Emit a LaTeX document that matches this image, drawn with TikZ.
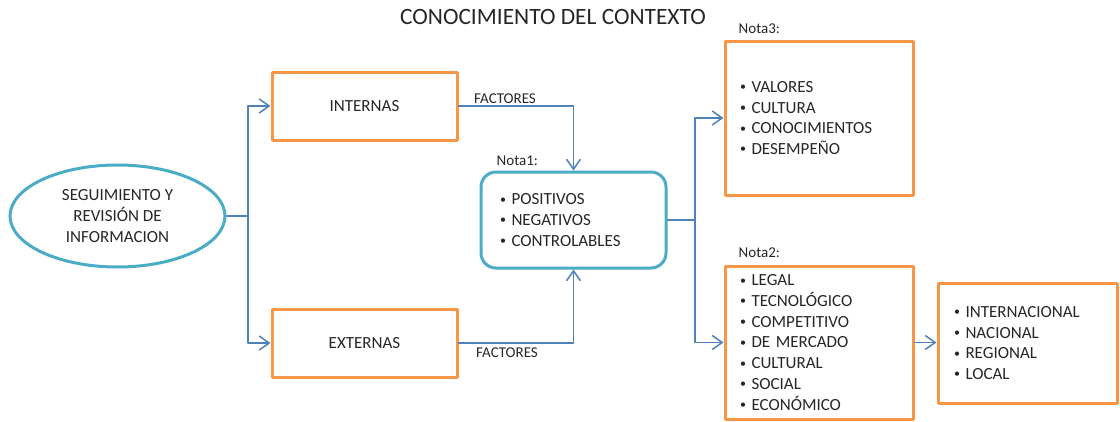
\documentclass[tikz,border=0pt]{standalone}
\usepackage{fontspec}
\setmainfont{Carlito}
\usetikzlibrary{arrows.meta,positioning,shapes.geometric}
\definecolor{naranja}{HTML}{F79646}
\definecolor{turquesa}{HTML}{4BACC6}
\definecolor{azul}{HTML}{4F81BD}
\definecolor{texto}{HTML}{262626}
\newcommand{\punto}{\makebox[11.5pt][l]{\raisebox{1.6pt}{\fontsize{12}{12}\selectfont\textbullet}}}
\tikzset{
  every picture/.style={
    line join=round,
    line cap=round,
  },
  caja/.style={draw=naranja, line width=3pt, text=texto, inner ysep=0pt,
    font=\fontsize{17}{20.7}\selectfont, align=left},
  nota/.style={caja, draw=turquesa, rounded corners=15pt},
  flecha/.style={draw=azul, line width=1.5pt,
    -{Straight Barb[length=10pt,width=14pt]}},
  etiqueta/.style={inner sep=0pt, text=texto, font=\fontsize{15}{18}\selectfont},
}

\begin{document}
\begin{tikzpicture}[x=1pt, y=-1pt]
    \useasboundingbox (0,0) rectangle (1120,421);

    % Title
    \node[anchor=base, text=texto, font=\fontsize{23.4}{27}\selectfont] (titulo)
        at (553,24) {CONOCIMIENTO DEL CONTEXTO};

    % Source
    \node[caja, draw=turquesa, ellipse, minimum width=215pt, minimum height=102pt,
        inner sep=0pt, align=center] (seguimiento) at (117.5,216)
        {SEGUIMIENTO Y\\REVISIÓN DE\\INFORMACION};

    % Internal and external
    \node[caja, minimum width=185pt, minimum height=68pt, align=center] (internas)
        at (364.5,106) {INTERNAS};
    \node[caja, minimum width=185pt, minimum height=68pt, align=center] (externas)
        at (364.5,343) {EXTERNAS};

    % Nota1
    \node[nota, inner xsep=19pt, text width=147pt, minimum height=96pt] (nota1)
        at (573.5,220) {\punto POSITIVOS\\\punto NEGATIVOS\\\punto CONTROLABLES};
    \node[etiqueta, above right=5pt and 17pt of nota1.north west] (lnota1) {Nota1:};

    % Nota3
    \node[caja, inner xsep=15pt, text width=158pt, minimum height=154pt] (nota3)
        at (819,118) {\punto VALORES\\\punto CULTURA\\\punto CONOCIMIENTOS\\\punto DESEMPEÑO};
    \node[etiqueta, above right=6pt and 15pt of nota3.north west] (lnota3) {Nota3:};

    % Nota2
    \node[caja, inner xsep=15pt, text width=158pt, minimum height=153pt] (nota2)
        at (819,342.5) {\punto LEGAL\\\punto TECNOLÓGICO\\\punto COMPETITIVO\\
        \punto DE MERCADO\\\punto CULTURAL\\\punto SOCIAL\\\punto ECONÓMICO};
    \node[etiqueta, above right=7pt and 15pt of nota2.north west] (lnota2) {Nota2:};

    % Scope
    \node[caja, inner xsep=16pt, text width=147pt, minimum height=120pt] (alcance)
        at (1027.5,343) {\punto INTERNACIONAL\\\punto NACIONAL\\\punto REGIONAL\\\punto LOCAL};

    % Connectors
    \coordinate (bif1) at (248,216);
    \draw[flecha] (seguimiento.east) -- (bif1) |- (internas.west);
    \draw[flecha] (bif1) |- (externas.west);
    \draw[flecha] (internas.east) -| (nota1.north);
    \draw[flecha] (externas.east) -| (nota1.south);
    \node[etiqueta, anchor=base] (factores1) at (505,103) {FACTORES};
    \node[etiqueta, anchor=base] (factores2) at (507,357) {FACTORES};
    \coordinate (bif2) at (695,220);
    \draw[flecha] (nota1.east) -- (bif2) |- (nota3.west);
    \draw[flecha] (bif2) |- (nota2.west);
    \draw[flecha] (nota2.east) -- (nota2.east -| alcance.west);
\end{tikzpicture}
\end{document}
